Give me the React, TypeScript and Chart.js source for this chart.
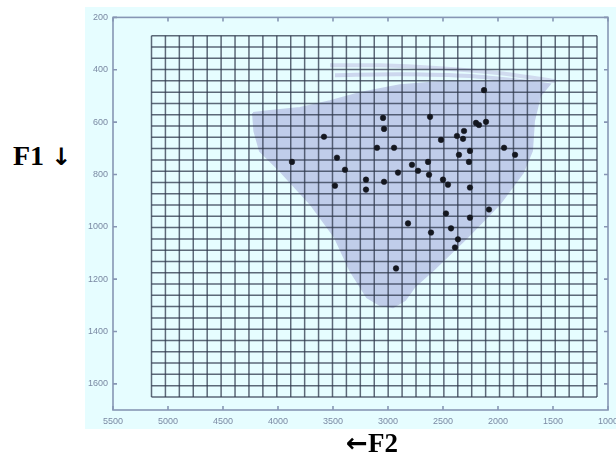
import React, { useEffect, useRef } from 'react';
import { Chart, registerables } from 'chart.js';

Chart.register(...registerables);

// Axis tick values
const xTicks = [5500, 5000, 4500, 4000, 3500, 3000, 2500, 2000, 1500, 1000];
const yTicks = [200, 400, 600, 800, 1000, 1200, 1400, 1600];

// Vowel tokens (F2, F1)
const tokenF2 = [2127, 3045, 2618, 3036, 2200, 2173, 2109, 3582, 2373, 2309, 2318, 2518, 3100, 2945, 1945, 1845, 2255, 2355, 3873, 3464, 2264, 2636, 2782, 3391, 2909, 2727, 2627, 3200, 3036, 3482, 3200, 2500, 2455, 2255, 2082, 2473, 2255, 2818, 2427, 2609, 2364, 2391, 2927];
const tokenF1 = [478, 584, 580, 626, 603, 611, 599, 656, 653, 634, 664, 668, 698, 698, 698, 725, 710, 725, 752, 736, 752, 752, 763, 782, 793, 786, 801, 820, 828, 843, 858, 820, 839, 850, 934, 949, 965, 987, 1006, 1022, 1048, 1079, 1159];

// Shaded vowel space outline (F2, F1)
const spaceF2 = [4227, 4215, 4164, 3982, 3709, 3482, 3345, 3191, 3073, 2955, 2845, 2755, 2591, 2282, 1982, 1773, 1691, 1673, 1618, 1530, 1700, 1982, 2527, 2891, 3255, 3527, 3800, 4073, 4227];
const spaceF1 = [565, 634, 710, 786, 911, 1041, 1166, 1269, 1299, 1307, 1280, 1227, 1166, 1041, 911, 793, 710, 596, 500, 455, 445, 447, 447, 459, 489, 520, 546, 558, 565];

// Faint streaks above the shaded area
const streakAF2 = [3527, 3073, 2527, 1982, 1482];
const streakAF1 = [383, 383, 394, 413, 443];
const streakBF2 = [3482, 2891, 2255, 1618];
const streakBF1 = [421, 417, 424, 451];

// Reference grid extent
const gridF2From = 5150;
const gridF2To = 1100;
const gridF1From = 270;
const gridF1To = 1650;
const gridDivisions = 32;

const toPts = (xs: number[], ys: number[]) => xs.map((x, i) => ({ x, y: ys[i] }));

const boxPlugin = {
  id: 'matlabBox',
  afterDraw(chart: any) {
    const { ctx, chartArea: a, scales } = chart;
    ctx.save();
    ctx.strokeStyle = '#8796b4';
    ctx.lineWidth = 1.6;
    ctx.strokeRect(a.left, a.top, a.right - a.left, a.bottom - a.top);
    ctx.beginPath();
    for (const v of xTicks) {
      const px = scales.x.getPixelForValue(v);
      ctx.moveTo(px, a.bottom);
      ctx.lineTo(px, a.bottom - 4);
      ctx.moveTo(px, a.top);
      ctx.lineTo(px, a.top + 4);
    }
    for (const v of yTicks) {
      const py = scales.y.getPixelForValue(v);
      ctx.moveTo(a.left, py);
      ctx.lineTo(a.left + 4, py);
      ctx.moveTo(a.right, py);
      ctx.lineTo(a.right - 4, py);
    }
    ctx.stroke();
    ctx.restore();
  },
};

const gridColor = 'rgba(45,55,75,0.75)';

export default function App() {
  const ref = useRef<HTMLCanvasElement | null>(null);

  useEffect(() => {
    if (!ref.current) return;
    const gridSets: any[] = [];
    for (let i = 0; i <= gridDivisions; i++) {
      const f2 = gridF2From + ((gridF2To - gridF2From) * i) / gridDivisions;
      gridSets.push({
        data: [{ x: f2, y: gridF1From }, { x: f2, y: gridF1To }],
        showLine: true,
        borderColor: gridColor,
        borderWidth: 1.5,
        pointRadius: 0,
        order: 1,
      });
      const f1 = gridF1From + ((gridF1To - gridF1From) * i) / gridDivisions;
      gridSets.push({
        data: [{ x: gridF2From, y: f1 }, { x: gridF2To, y: f1 }],
        showLine: true,
        borderColor: gridColor,
        borderWidth: 1.5,
        pointRadius: 0,
        order: 1,
      });
    }

    const tickFont = { family: 'Liberation Sans', size: 9 };

    const chart = new Chart(ref.current, {
      type: 'scatter',
      data: {
        datasets: [
          {
            data: toPts(tokenF2, tokenF1),
            pointStyle: 'circle',
            pointRadius: 2.8,
            backgroundColor: '#14171f',
            borderColor: '#14171f',
            borderWidth: 0.5,
            order: 0,
          },
          ...gridSets,
          {
            data: toPts(spaceF2, spaceF1),
            showLine: true,
            fill: 'shape',
            backgroundColor: '#c0cdea',
            borderColor: '#c2cfea',
            borderWidth: 2,
            tension: 0,
            pointRadius: 0,
            order: 2,
          },
          {
            data: toPts(streakAF2, streakAF1),
            showLine: true,
            borderColor: '#d0dbef',
            borderWidth: 4,
            tension: 0.3,
            pointRadius: 0,
            order: 2,
          },
          {
            data: toPts(streakBF2, streakBF1),
            showLine: true,
            borderColor: '#ccd7ee',
            borderWidth: 4,
            tension: 0.3,
            pointRadius: 0,
            order: 2,
          },
        ] as any,
      },
      options: {
        animation: false,
        responsive: false,
        layout: { padding: { left: 0, top: 9, right: 22, bottom: 0 } },
        plugins: { legend: { display: false }, tooltip: { enabled: false } },
        scales: {
          x: {
            type: 'linear',
            min: 1000,
            max: 5500,
            reverse: true,
            afterBuildTicks: (s: any) => {
              s.ticks = xTicks.map((v) => ({ value: v }));
            },
            afterFit: (s: any) => {
              s.height = 19;
            },
            grid: { display: false, drawTicks: false },
            border: { display: false },
            ticks: {
              autoSkip: false,
              maxRotation: 0,
              padding: 6,
              color: '#7a89a3',
              font: tickFont,
              callback: (v: any) => String(v),
            },
          },
          y: {
            type: 'linear',
            min: 200,
            max: 1700,
            reverse: true,
            afterBuildTicks: (s: any) => {
              s.ticks = yTicks.map((v) => ({ value: v }));
            },
            afterFit: (s: any) => {
              s.width = 28;
            },
            grid: { display: false, drawTicks: false },
            border: { display: false },
            ticks: {
              autoSkip: false,
              padding: 5,
              color: '#7a89a3',
              font: tickFont,
              callback: (v: any) => String(v),
            },
          },
        },
      },
      plugins: [boxPlugin],
    });
    return () => chart.destroy();
  }, []);

  const arrowStyle = { fontFamily: '"DejaVu Sans", sans-serif', fontWeight: 'bold' as const };

  return (
    <div
      style={{
        position: 'absolute',
        left: 0,
        top: 0,
        width: 616,
        height: 459,
        overflow: 'hidden',
        background: '#ffffff',
      }}
    >
      <div
        style={{
          position: 'absolute',
          left: 85,
          top: 7,
          width: 531,
          height: 422,
          background: '#e6fdff',
        }}
      />
      <canvas
        ref={ref}
        width={545}
        height={422}
        style={{ position: 'absolute', left: 85, top: 7 }}
      />
      <div
        style={{
          position: 'absolute',
          left: 13,
          top: 142,
          fontFamily: '"Liberation Serif", serif',
          fontWeight: 'bold',
          fontSize: 28,
          lineHeight: '28px',
          whiteSpace: 'nowrap',
          color: '#000',
        }}
      >
        F1 <span style={{ ...arrowStyle, fontSize: 24 }}>↓</span>
      </div>
      <div
        style={{
          position: 'absolute',
          left: 322,
          top: 430,
          width: 100,
          textAlign: 'center',
          fontFamily: '"Liberation Serif", serif',
          fontWeight: 'bold',
          fontSize: 27,
          lineHeight: '27px',
          whiteSpace: 'nowrap',
          color: '#000',
        }}
      >
        <span style={{ ...arrowStyle, fontSize: 26 }}>←</span>F2
      </div>
    </div>
  );
}
